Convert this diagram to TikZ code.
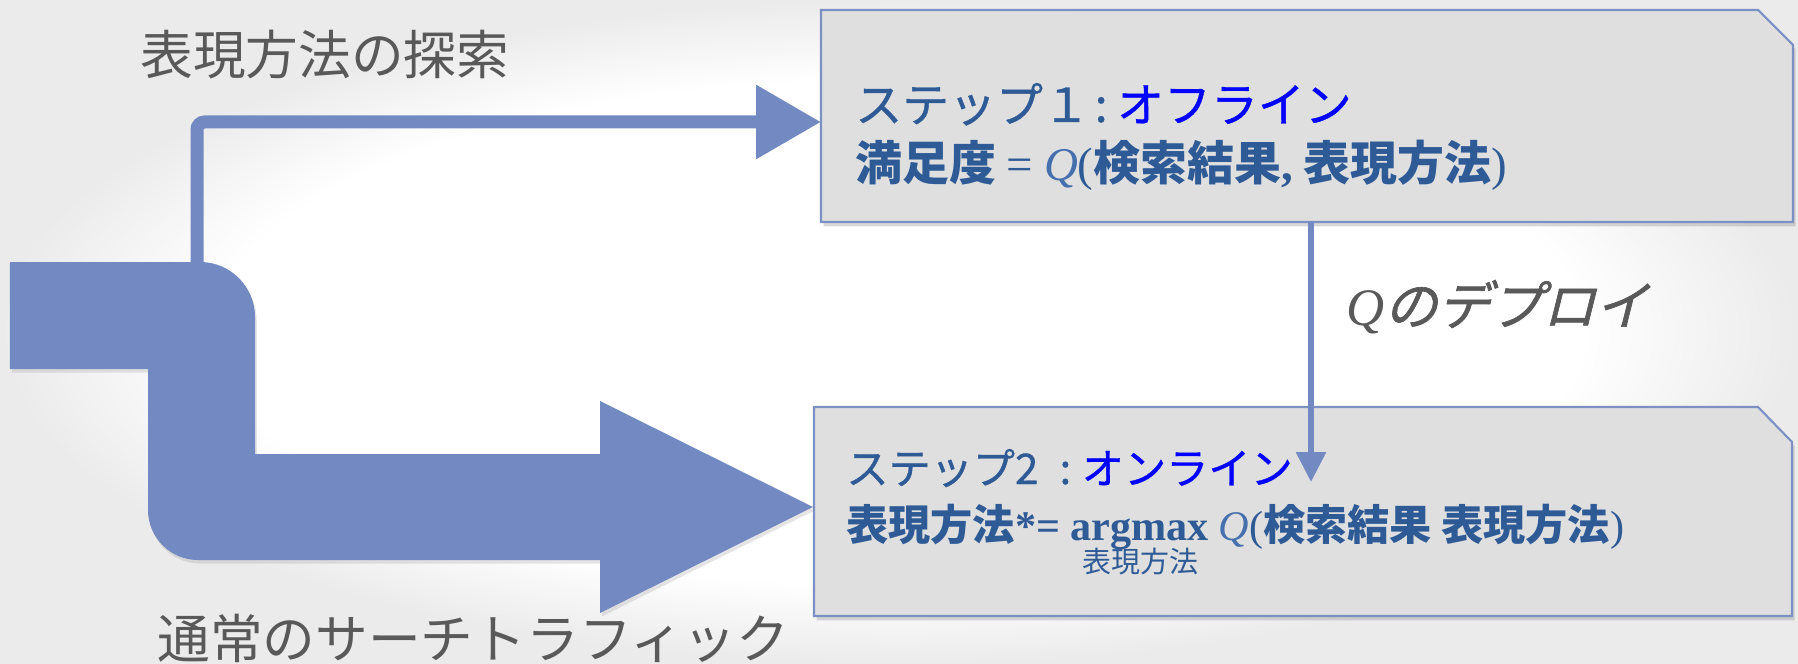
\documentclass[tikz,border=0pt]{standalone}
\usepackage{fontspec}
\setmainfont{Liberation Serif}
\newfontfamily\jp{Noto Sans CJK JP}
\newfontfamily\jpmid[FakeBold=0.8]{Noto Sans CJK JP}
\newfontfamily\jpslant[FakeSlant=0.25, FakeBold=1.2]{Noto Sans CJK JP}
\usetikzlibrary{positioning, arrows.meta, shadows}

\definecolor{flowblue}{HTML}{7289C1}
\definecolor{panelfill}{HTML}{DFDFDF}
\definecolor{panelline}{HTML}{7D90C3}
\definecolor{inkblue}{HTML}{2E5A96}
\definecolor{qblue}{HTML}{4670AD}
\definecolor{pureblue}{HTML}{0000FF}
\definecolor{labelgray}{HTML}{595959}
\definecolor{papergray}{HTML}{EBEBEB}
\pgfdeclareradialshading{paper}{\pgfpoint{0bp}{0bp}}{color(0bp)=(white); color(19bp)=(white); color(25bp)=(papergray); color(50bp)=(papergray)}

\tikzset{
  panelframe/.style={minimum width=#1, inner sep=0pt, outer sep=0pt},
  panelshape/.style={fill=panelfill, draw=panelline, line width=1.2pt,
    drop shadow={shadow xshift=1.5pt, shadow yshift=-2.5pt, opacity=0.3}},
  feed/.style={draw=flowblue, line width=0.26cm, rounded corners=0.15cm,
    -{Triangle[length=1.3cm, width=1.42cm]}},
  deploy/.style={draw=flowblue, line width=0.12cm, -{Triangle[length=0.6cm, width=0.58cm]}},
  sidenote/.style={text=labelgray, font=\jp\fontsize{30}{36}\selectfont, inner sep=0pt, anchor=base west},
  stepone/.style={text=inkblue, font=\jpmid\fontsize{26.7}{32}\selectfont, inner sep=0pt, anchor=base west},
  steptwo/.style={text=inkblue, font=\jpmid\fontsize{24}{29}\selectfont, inner sep=0pt, anchor=base west},
}

\begin{document}
\begin{tikzpicture}

  \useasboundingbox (0,0) rectangle (35.96,-13.28);
  \shade[shading=paper] (0,0) rectangle (35.96,-13.28);

  % Labels
  \node[sidenote] (explore) at (2.8,-1.5) {表現方法の探索};
  \node[sidenote] (traffic) at (3.14,-13.16) {通常のサーチトラフィック};
  \node[sidenote] (deploylabel) at (26.92,-6.5) {{\rmfamily\itshape Q}{\jpslant のデプロイ}};

  % Step frames
  \node[panelframe=19.44cm, minimum height=4.24cm] (offline) at (26.14,-2.32) {};
  \node[panelframe=19.56cm, minimum height=4.18cm] (online) at (26.06,-10.23) {};
  \path[panelshape] (offline.north west) -- ([xshift=-0.7cm]offline.north east)
    -- ([yshift=-0.7cm]offline.north east) -- (offline.south east) -- (offline.south west) -- cycle;
  \path[panelshape] (online.north west) -- ([xshift=-0.68cm]online.north east)
    -- ([yshift=-0.7cm]online.north east) -- (online.south east) -- (online.south west) -- cycle;

  % Step 1 text
  \node[stepone] (off1) at (17.1,-2.44) {ステップ１\hspace{0.1em}:\hspace{0.2em}\textcolor{pureblue}{オフライン}};
  \node[stepone, font=\jp\bfseries\fontsize{26.7}{32}\selectfont] (off2) at (17.1,-3.6)
    {満足度 {\rmfamily\mdseries =} {\rmfamily\mdseries\itshape\color{qblue}Q}{\rmfamily\mdseries(}検索結果{\rmfamily,} 表現方法{\rmfamily\mdseries)}};
  % Step 2 text
  \node[steptwo] (on1) at (16.92,-9.68) {ステップ2\hspace{0.5em}:\hspace{0.25em}\textcolor{pureblue}{オンライン}};
  \node[steptwo, font=\jp\bfseries\fontsize{24}{29}\selectfont] (on2) at (16.92,-10.8)
    {表現方法{\rmfamily *= argmax} {\rmfamily\mdseries\itshape\color{qblue}Q}{\rmfamily\mdseries(}検索結果 表現方法{\rmfamily\mdseries)}};
  \node[steptwo, anchor=base, font=\jp\fontsize{16.5}{20}\selectfont] (onsub) at (22.8,-11.44) {表現方法};

  % Arrows
  \coordinate (split) at (3.94,-5.24);
  \coordinate (deploytip) at (26.22,-9.64);
  \draw[feed] (split) |- ([yshift=-0.12cm]offline.west);
  \fill[flowblue, drop shadow={shadow xshift=1pt, shadow yshift=-2pt, opacity=0.2}]
    (0.2,-5.24) -- (4.0,-5.24) arc[start angle=90, end angle=0, radius=1.1cm]
    -- (5.1,-9.08) -- (12.0,-9.08) -- (12.0,-8.02) -- (16.26,-10.14) -- (12.0,-12.26)
    -- (12.0,-11.2) -- (3.96,-11.2) arc[start angle=270, end angle=180, radius=1.0cm]
    -- (2.96,-7.38) -- (0.2,-7.38) -- cycle;
  \draw[deploy] (offline.south -| deploytip) -- (deploytip);

\end{tikzpicture}
\end{document}
